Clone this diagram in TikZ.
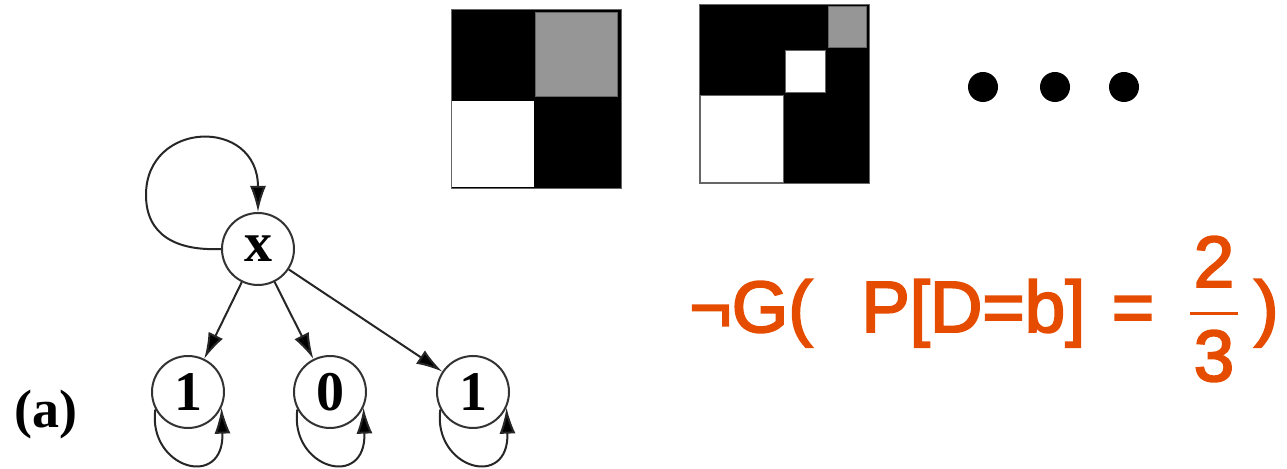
\documentclass[tikz,border=0pt]{standalone}
\usepackage{fontspec}
\usetikzlibrary{arrows.meta}
\newfontfamily\graphfont{Liberation Serif}
\newfontfamily\formulafont{Liberation Sans}
\definecolor{formulaorange}{RGB}{230,76,0}
\definecolor{cellgray}{RGB}{150,150,150}
% heavier strokes for the formula
\newcommand\heavytext[1]{\special{pdf:literal direct 2 Tr 1 w}#1\special{pdf:literal direct 0 Tr}}

\begin{document}
\begin{tikzpicture}[x=0.5pt, y=0.5pt,
    state/.style={circle, draw=black!80, line width=1pt, minimum size=36pt, inner sep=0pt,
        font=\graphfont\bfseries\fontsize{28}{30}\selectfont},
    arr/.style={-{Latex[length=13pt,width=8pt,fill=black]}, draw=black!85, line width=1pt},
    formula/.style={text=formulaorange, inner sep=0pt,
        font=\formulafont\fontsize{36.3}{40}\selectfont}]
    \useasboundingbox (0,0) rectangle (1287,-469);
    % Matrix 2x2
    \fill[black] (451,-10) rectangle (621,-189);
    \filldraw[fill=cellgray, draw=black!60, line width=0.5pt] (535,-13) rectangle (617,-97);
    \fill[white] (452,-101) rectangle (534,-187);
    \draw[black!60, line width=0.5pt] (451,-10) rectangle (621,-189);
    % Matrix 4x4
    \fill[black] (699,-5) rectangle (869,-184);
    \filldraw[fill=cellgray, draw=black!60, line width=0.5pt] (828,-7) rectangle (866,-48);
    \filldraw[fill=white, draw=black!60, line width=0.5pt] (785,-51) rectangle (825,-93);
    \filldraw[fill=white, draw=black!60, line width=0.5pt] (700,-96) rectangle (783,-183);
    \draw[black!60, line width=0.5pt] (699,-5) rectangle (869,-184);
    % Dots
    \foreach \x in {983,1055,1124}
        \fill (\x,-87) circle[radius=15];
    % Graph nodes
    \node[state] (nx) at (258,-249) {x};
    \node[state] (na) at (188,-392) {1};
    \node[state] (nb) at (330,-392) {0};
    \node[state] (nc) at (473,-392) {1};
    \node[anchor=base west, inner sep=0pt, font=\graphfont\bfseries\fontsize{27}{30}\selectfont]
        (lbl) at (14,-428) {(a)};
    % Edges
    \draw[arr] (nx) -- (na);
    \draw[arr] (nx) -- (nb);
    \draw[arr] (nx) -- (nc);
    % Self loops
    \draw[arr] (nx.west) .. controls +(-45,-2) and +(0,-40) .. ++(-75,54)
        .. controls +(0,75) and +(0,95) .. (nx.north);
    \foreach \n in {na,nb,nc}
        \draw[arr] (\n.208) .. controls +(-8,-59) and +(3,-83) .. (\n.-25);
    % Formula
    \node[formula, anchor=base west] (neg) at (689,-332) {\heavytext{¬G(}};
    \node[formula, anchor=base west] (prob) at (861,-332) {\heavytext{P[D=b]}};
    \node[formula, anchor=base] (eq) at (1133,-332) {\heavytext{=}};
    \node[formula, anchor=base] (num) at (1214,-287) {\heavytext{2}};
    \node[formula, anchor=base] (den) at (1214,-381) {\heavytext{3}};
    \draw[formulaorange, line width=1.5pt] (1190,-314) -- (1238,-314);
    \node[formula, anchor=base west] (close) at (1254,-332) {\heavytext{)}};
\end{tikzpicture}
\end{document}
